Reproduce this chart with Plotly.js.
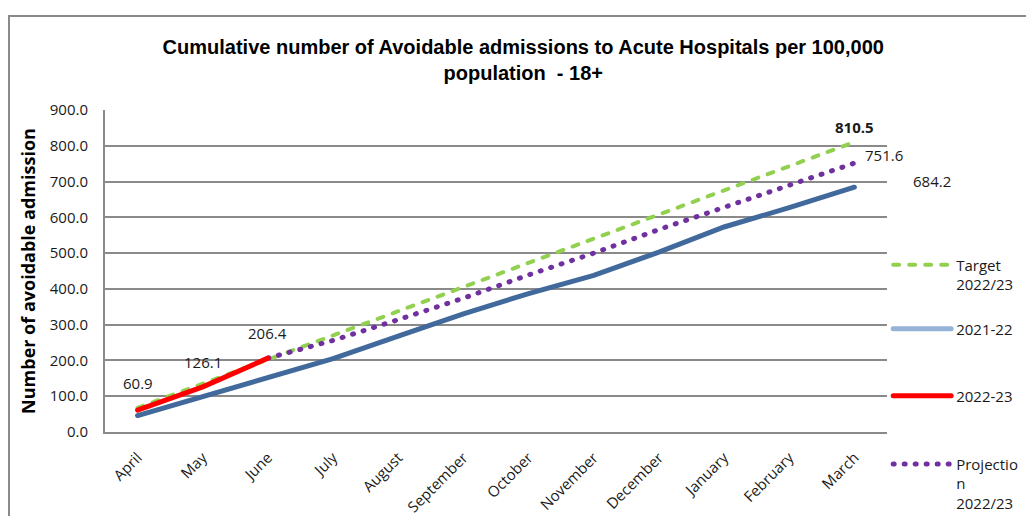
<!DOCTYPE html>
<html>
<head>
<meta charset="utf-8">
<script src="https://cdn.plot.ly/plotly-3.0.1.min.js"></script>
<style>
  html, body { margin: 0; padding: 0; overflow: hidden; background: #fff; }
  #frame { position: absolute; left: 8px; top: 15px; width: 1100px; height: 600px;
           border-left: 2px solid #8a8a8a; border-top: 2px solid #8a8a8a; }
  #chart { position: absolute; left: 0; top: 0; width: 1026px; height: 516px; }
  path.js-line { stroke-linecap: round; }
</style>
</head>
<body>
<div id="frame"></div>
<div id="chart"></div>
<script>
const months = ["April","May","June","July","August","September","October","November","December","January","February","March"];
const target2223 = [67.5, 135.1, 202.6, 270.2, 337.7, 405.3, 472.8, 540.3, 607.9, 675.4, 743.0, 810.5];
const actual2122 = [46, 98, 150, 205, 268, 330, 387, 438, 503, 573, 627, 684.2];
const actual2223 = [60.9, 126.1, 206.4];
const projection2223 = [null, null, 206.4, 256, 314, 374, 439, 500, 566, 628, 690, 751.6];
const yTicks = [0, 100, 200, 300, 400, 500, 600, 700, 800, 900];

const labelFont = {family: "Open Sans, Liberation Sans, sans-serif", size: 15, color: "#1a1a1a"};
const legFont = {family: "Open Sans, Liberation Sans, sans-serif", size: 15, color: "#1a1a1a"};

const traces = [
  {x: months, y: actual2122, type: "scatter", mode: "lines", name: "2021-22", showlegend: false,
   line: {color: "#41699c", width: 5}},
  {x: months, y: target2223, type: "scatter", mode: "lines", name: "Target<br>2022/23", legend: "legend",
   line: {color: "#92d050", width: 4, dash: "6px,10px"}},
  {x: months, y: projection2223, type: "scatter", mode: "lines", name: "Projectio<br>n<br>2022/23", legend: "legend4",
   line: {color: "#7030a0", width: 5, dash: "1px,10px"}},
  {x: months.slice(0, actual2223.length), y: actual2223, type: "scatter", mode: "lines", name: "2022-23", legend: "legend3",
   line: {color: "#ff0000", width: 5}},
  {x: [months[0]], y: [null], type: "scatter", mode: "lines", name: "2021-22", legend: "legend2",
   line: {color: "#95b3d7", width: 5}}
];

const annotations = [];
actual2223.forEach((v, i) => {
  annotations.push({x: months[i], y: v, xref: "x", yref: "y", text: v.toFixed(1), showarrow: false,
    yshift: i === 0 ? 27 : 25, font: labelFont});
});
const last = months.length - 1;
annotations.push({x: months[last], y: target2223[last], xref: "x", yref: "y", text: "<b>" + target2223[last].toFixed(1) + "</b>",
  showarrow: false, yshift: 15, font: labelFont});
annotations.push({x: months[last], y: projection2223[last], xref: "x", yref: "y", text: projection2223[last].toFixed(1),
  showarrow: false, xshift: 30, yshift: 8, font: labelFont});
annotations.push({x: months[last], y: actual2122[last], xref: "x", yref: "y", text: actual2122[last].toFixed(1),
  showarrow: false, xshift: 78, yshift: 6, font: labelFont});

function leg(y) {
  return {x: 1.0015, xanchor: "left", y: y, yanchor: "middle", bgcolor: "rgba(0,0,0,0)", borderwidth: 0,
    font: legFont, itemwidth: 58, valign: "top", tracegroupgap: 0};
}

const layout = {
  width: 1026, height: 516,
  paper_bgcolor: "rgba(0,0,0,0)", plot_bgcolor: "rgba(0,0,0,0)",
  margin: {l: 105, r: 139, t: 110, b: 84, autoexpand: false},
  title: {text: "<b>Cumulative number of Avoidable admissions to Acute Hospitals per 100,000<br>population  - 18+</b>",
    x: 0.51, xref: "container", y: 0.895, yanchor: "top",
    font: {family: "Liberation Sans, sans-serif", size: 20, color: "#000"}},
  xaxis: {type: "category", categoryarray: months, range: [-0.5, 11.5], tickangle: -45, automargin: false,
    showgrid: false, showline: true, linecolor: "#8a8a8a", linewidth: 2, ticks: "", ticklabelstandoff: 9,
    tickfont: {family: "Open Sans, Liberation Sans, sans-serif", size: 15, color: "#1a1a1a"}},
  yaxis: {range: [0, 900], tickvals: yTicks, tickformat: ".1f", showgrid: true, gridcolor: "#8a8a8a", gridwidth: 2,
    showline: true, linecolor: "#8a8a8a", linewidth: 2, zeroline: false, ticks: "", automargin: false,
    ticklabelstandoff: 12,
    tickfont: {family: "Open Sans, Liberation Sans, sans-serif", size: 15, color: "#1a1a1a"},
    title: {text: "<b>Number of avoidable admission</b>", standoff: 9,
      font: {family: "Open Sans, Liberation Sans, sans-serif", size: 18, color: "#000"}}},
  legend: leg(0.489),
  legend2: leg(0.320),
  legend3: leg(0.112),
  legend4: leg(-0.161),
  annotations: annotations,
  showlegend: true
};

Plotly.newPlot("chart", traces, layout, {staticPlot: true, displayModeBar: false});
</script>
</body>
</html>
